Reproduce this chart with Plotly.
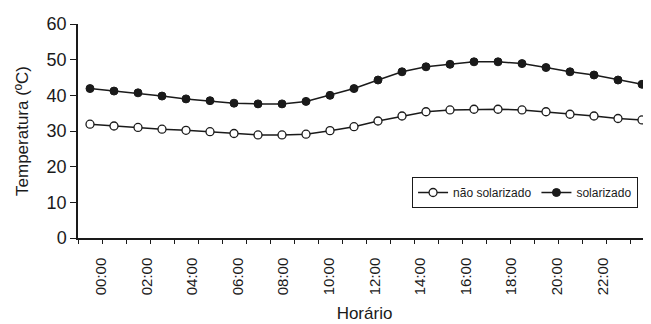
import plotly.graph_objects as go

# ---- data ----
hours = ["00:00", "01:00", "02:00", "03:00", "04:00", "05:00", "06:00", "07:00",
         "08:00", "09:00", "10:00", "11:00", "12:00", "13:00", "14:00", "15:00",
         "16:00", "17:00", "18:00", "19:00", "20:00", "21:00", "22:00", "23:00"]
nao_solarizado = [31.9, 31.4, 31.0, 30.5, 30.2, 29.8, 29.3, 28.9, 28.9, 29.1, 30.1, 31.2,
                  32.8, 34.2, 35.4, 35.9, 36.1, 36.1, 35.9, 35.4, 34.7, 34.2, 33.5, 33.1]
solarizado = [41.9, 41.2, 40.7, 39.8, 39.0, 38.5, 37.8, 37.6, 37.6, 38.3, 40.0, 41.9,
              44.3, 46.6, 48.0, 48.7, 49.4, 49.4, 48.9, 47.8, 46.6, 45.7, 44.3, 43.1]
tick_labels = hours[0::2]
y_ticks = [0, 10, 20, 30, 40, 50, 60]

FONT = "Liberation Sans, Arial, sans-serif"
x_idx = list(range(len(hours)))

fig = go.Figure()
fig.add_trace(go.Scatter(
    x=x_idx, y=nao_solarizado, name="não solarizado", mode="lines+markers",
    line=dict(color="#1a1a1a", width=1.5),
    marker=dict(symbol="circle", size=8, color="white",
                line=dict(color="#1a1a1a", width=1.3)),
    cliponaxis=False,
))
fig.add_trace(go.Scatter(
    x=x_idx, y=solarizado, name="solarizado", mode="lines+markers",
    line=dict(color="#1a1a1a", width=1.5),
    marker=dict(symbol="circle", size=8, color="#1a1a1a",
                line=dict(color="#1a1a1a", width=1)),
    cliponaxis=False,
))

# label positions along the category axis (labels in the original drift slightly)
label_pos = [0.46 + 1.9 * k for k in range(len(tick_labels))]
minor_pos = [i + 0.5 for i in range(-1, len(hours))]

# page body has an 8px default margin -> figure is 8px smaller than the window
fig.update_layout(
    width=643, height=316,
    margin=dict(l=70, r=0, t=16, b=86, autoexpand=False),
    paper_bgcolor="white", plot_bgcolor="white",
    font=dict(family=FONT, color="#1a1a1a"),
    showlegend=True,
    legend=dict(
        orientation="h", x=0.583, y=0.285, xanchor="left", yanchor="top",
        bordercolor="#1a1a1a", borderwidth=1, bgcolor="white",
        font=dict(size=12, family=FONT, color="#1a1a1a"),
        itemwidth=30, tracegroupgap=0,
    ),
    xaxis=dict(
        range=[-0.5, 23.375], automargin=False,
        tickmode="array", tickvals=label_pos, ticktext=tick_labels,
        tickangle=-90, ticks="", ticklabelstandoff=12,
        tickfont=dict(size=15, family=FONT, color="#1a1a1a"),
        showline=True, linecolor="#1a1a1a", linewidth=1.5,
        showgrid=False, zeroline=False,
        minor=dict(tickmode="array", tickvals=minor_pos, ticks="outside",
                   ticklen=4, tickwidth=1, tickcolor="#1a1a1a", showgrid=False),
        title=dict(text="Horário", font=dict(size=17, family=FONT, color="#1a1a1a"),
                   standoff=13),
    ),
    yaxis=dict(
        range=[0, 60], tickmode="array", tickvals=y_ticks, automargin=False,
        ticks="outside", ticklen=6, tickwidth=1, tickcolor="#1a1a1a",
        tickfont=dict(size=18, family=FONT, color="#1a1a1a"),
        showline=True, linecolor="#1a1a1a", linewidth=1.5,
        showgrid=False, zeroline=False,
        title=dict(text="Temperatura (ºC)", font=dict(size=17, family=FONT, color="#1a1a1a"),
                   standoff=14),
    ),
)

fig.write_html("out.html")
